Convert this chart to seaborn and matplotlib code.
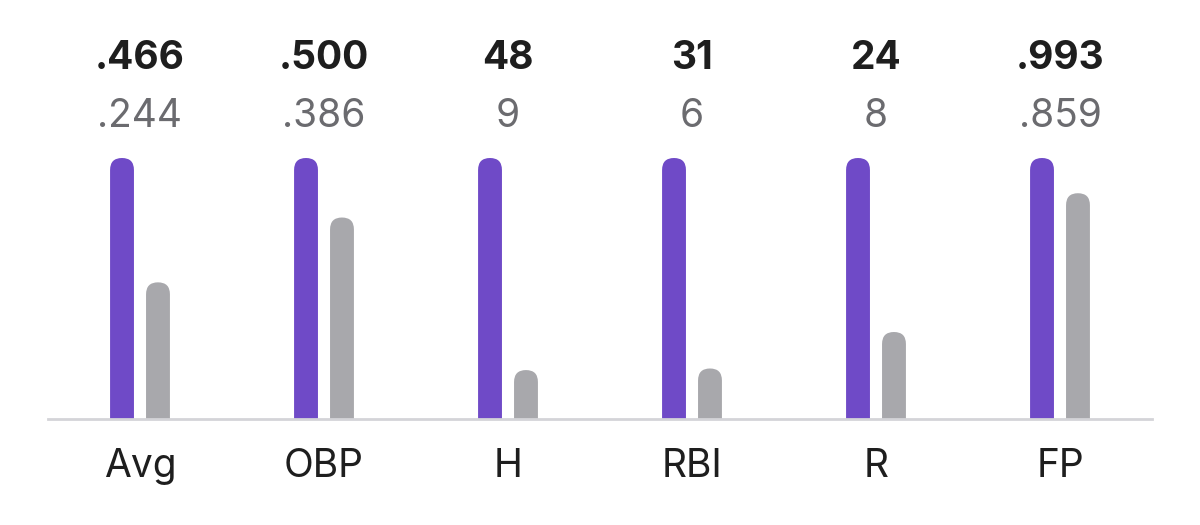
import pandas as pd
import numpy as np
import matplotlib.pyplot as plt
import matplotlib.transforms as mtransforms
from matplotlib.patches import FancyBboxPatch
import seaborn as sns

# --- data ---
categories = ["Avg", "OBP", "H", "RBI", "R", "FP"]
player_vals = [0.466, 0.500, 48, 31, 24, 0.993]
other_vals = [0.244, 0.386, 9, 6, 8, 0.859]
player_text = [".466", ".500", "48", "31", "24", ".993"]
other_text = [".244", ".386", "9", "6", "8", ".859"]

PURPLE = "#6F4AC7"
GREY_BAR = "#A8A8AC"
GREY_TXT = "#6B6B6F"
DARK = "#1E1E1E"

# bars are scaled so the player's value is full height
rows = []
for cat, p, o in zip(categories, player_vals, other_vals):
    rows.append({"stat": cat, "who": "player", "share": 1.0})
    rows.append({"stat": cat, "who": "other", "share": o / p})
df = pd.DataFrame(rows)

sns.set_style("white")
plt.rcParams["font.family"] = ["Inter", "DejaVu Sans"]

W, H = 1200, 525
fig = plt.figure(figsize=(12, 5.25), dpi=100)
ax = fig.add_axes([48 / W, (H - 419) / H, 1104 / W, 261 / H])

sns.barplot(data=df, x="stat", y="share", hue="who", order=categories,
            hue_order=["player", "other"], palette=[PURPLE, GREY_BAR],
            width=0.391, gap=0.336, legend=False, ax=ax, saturation=1)

ax.set_xlim(-0.5, len(categories) - 0.5)
ax.set_ylim(0, 1)

# swap the square bars for ones with a round top
x_per_px = len(categories) / 1104
y_per_px = 1 / 261
aspect = y_per_px / x_per_px
for patch in list(ax.patches):
    x0, w, h = patch.get_x(), patch.get_width(), patch.get_height()
    r = w / 2
    rb = FancyBboxPatch((x0, -r * aspect), w, h + r * aspect,
                        boxstyle=f"round,pad=0,rounding_size={r}",
                        mutation_aspect=aspect,
                        facecolor=patch.get_facecolor(), edgecolor="none",
                        clip_on=True)
    patch.remove()
    ax.add_patch(rb)

for s in ["top", "right", "left"]:
    ax.spines[s].set_visible(False)
ax.spines["bottom"].set_color("#D4D4D8")
ax.spines["bottom"].set_linewidth(2)
ax.set_yticks([])
ax.set_xlabel("")
ax.set_ylabel("")
ax.tick_params(axis="x", length=0, pad=0)
ax.set_xticklabels([])

trans = mtransforms.blended_transform_factory(ax.transData, fig.transFigure)
for i, cat in enumerate(categories):
    ax.text(i, 1 - 69 / H, player_text[i], transform=trans, ha="center",
            va="baseline", fontsize=28, fontweight="bold", color=DARK)
    ax.text(i, 1 - 127 / H, other_text[i], transform=trans, ha="center",
            va="baseline", fontsize=28, color=GREY_TXT)
    ax.text(i, 1 - 477 / H, cat, transform=trans, ha="center",
            va="baseline", fontsize=28, color=DARK)

fig.savefig("out.png", dpi=100, facecolor="white")
